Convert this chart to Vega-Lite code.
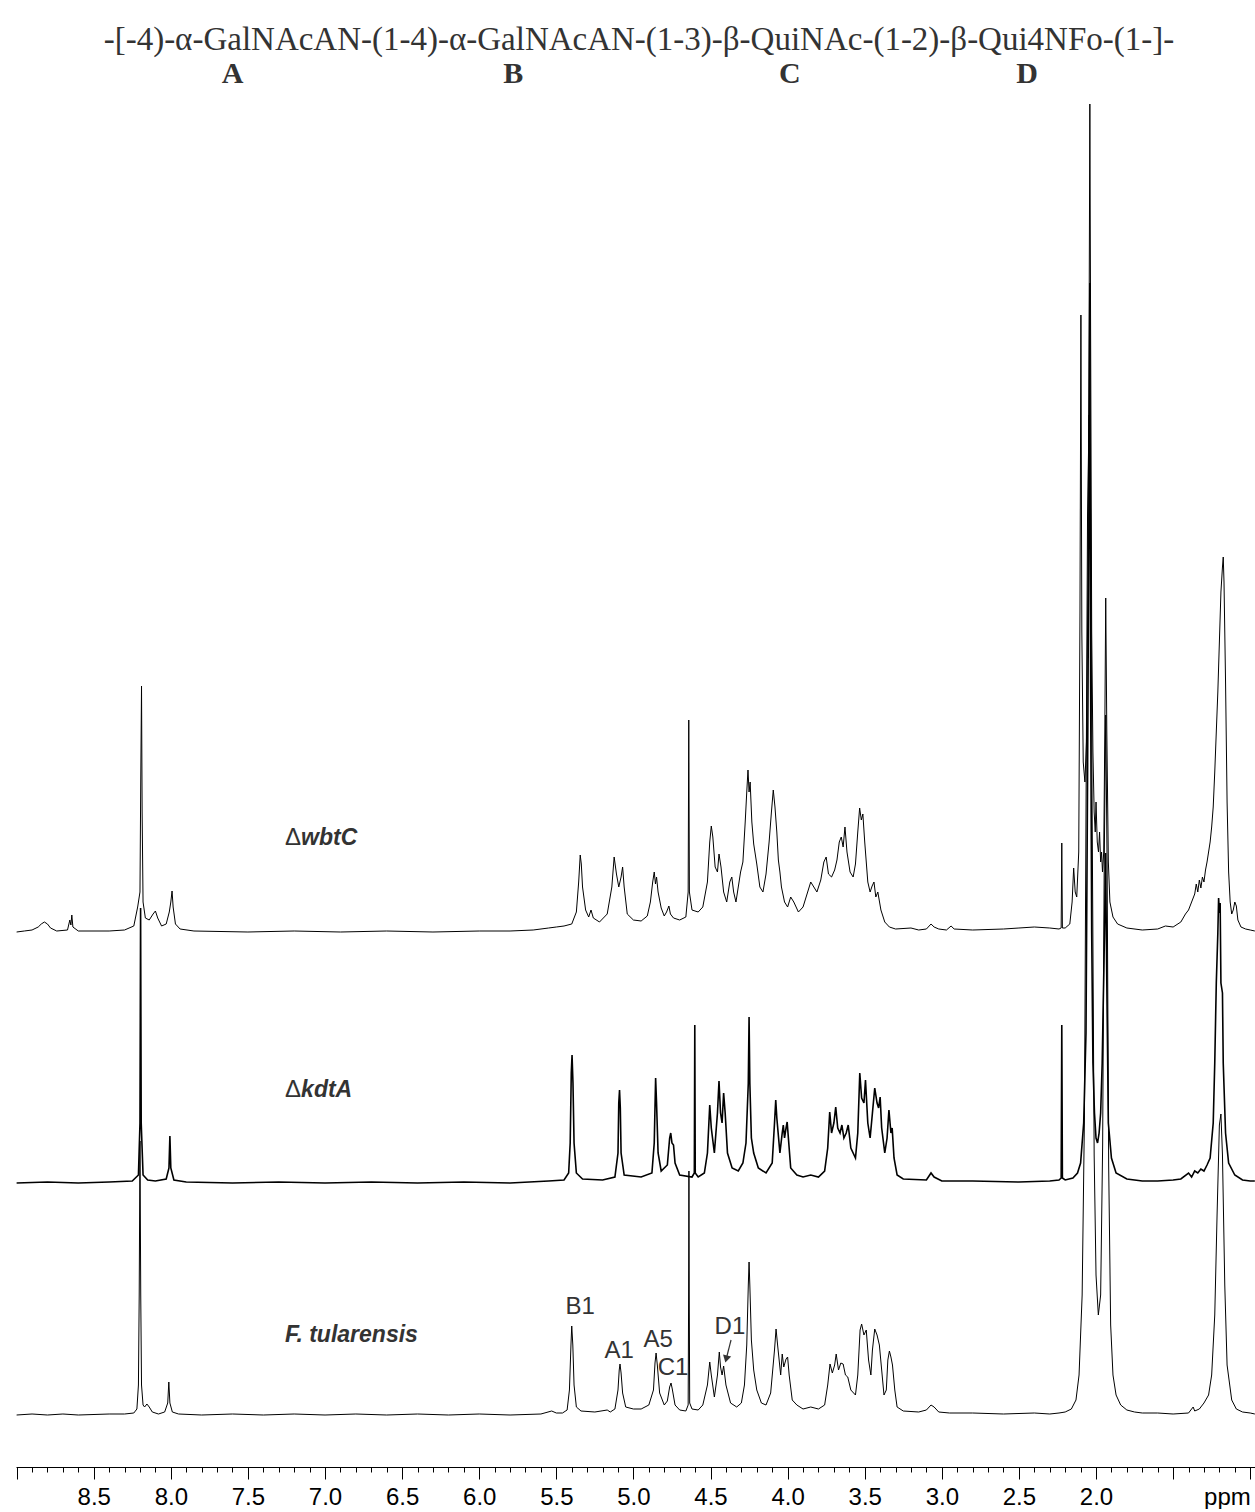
{
"$schema": "https://vega.github.io/schema/vega-lite/v6.json",
"width": 1239, "height": 1467,
"padding": {"left": 13, "top": 0, "right": 3, "bottom": 0},
"config": {"view": {"stroke": null}},
"datasets": {
"top": [{"x":9.0,"h":0},{"x":8.95,"h":1},{"x":8.9,"h":2},{"x":8.86,"h":5},{"x":8.84,"h":8},{"x":8.82,"h":10},{"x":8.8,"h":8},{"x":8.78,"h":4},{"x":8.74,"h":1},{"x":8.67,"h":2},{"x":8.655,"h":12},{"x":8.648,"h":7},{"x":8.642,"h":17},{"x":8.635,"h":5},{"x":8.6,"h":1},{"x":8.4,"h":1},{"x":8.3,"h":2},{"x":8.24,"h":6},{"x":8.215,"h":25},{"x":8.2,"h":40},{"x":8.195,"h":150},{"x":8.19,"h":246},{"x":8.186,"h":120},{"x":8.18,"h":30},{"x":8.165,"h":14},{"x":8.14,"h":12},{"x":8.115,"h":18},{"x":8.1,"h":21},{"x":8.085,"h":14},{"x":8.06,"h":6},{"x":8.03,"h":8},{"x":8.01,"h":20},{"x":8.0,"h":30},{"x":7.992,"h":41},{"x":7.985,"h":25},{"x":7.97,"h":8},{"x":7.94,"h":3},{"x":7.85,"h":1},{"x":7.5,"h":0},{"x":7.2,"h":1},{"x":6.9,"h":0},{"x":6.6,"h":1},{"x":6.3,"h":0},{"x":6.0,"h":1},{"x":5.8,"h":1},{"x":5.65,"h":2},{"x":5.55,"h":4},{"x":5.5,"h":5},{"x":5.45,"h":6},{"x":5.4,"h":8},{"x":5.37,"h":20},{"x":5.355,"h":50},{"x":5.345,"h":77},{"x":5.338,"h":68},{"x":5.33,"h":45},{"x":5.31,"h":22},{"x":5.29,"h":15},{"x":5.275,"h":22},{"x":5.26,"h":14},{"x":5.22,"h":10},{"x":5.17,"h":18},{"x":5.14,"h":45},{"x":5.125,"h":75},{"x":5.11,"h":58},{"x":5.095,"h":45},{"x":5.08,"h":55},{"x":5.07,"h":65},{"x":5.06,"h":45},{"x":5.04,"h":18},{"x":5.0,"h":12},{"x":4.95,"h":11},{"x":4.91,"h":16},{"x":4.89,"h":30},{"x":4.875,"h":50},{"x":4.865,"h":60},{"x":4.857,"h":48},{"x":4.85,"h":55},{"x":4.84,"h":40},{"x":4.82,"h":24},{"x":4.8,"h":16},{"x":4.785,"h":20},{"x":4.77,"h":26},{"x":4.76,"h":18},{"x":4.74,"h":14},{"x":4.7,"h":12},{"x":4.66,"h":15},{"x":4.645,"h":40},{"x":4.641,"h":212},{"x":4.637,"h":40},{"x":4.62,"h":22},{"x":4.58,"h":20},{"x":4.55,"h":25},{"x":4.52,"h":50},{"x":4.505,"h":90},{"x":4.495,"h":106},{"x":4.485,"h":95},{"x":4.47,"h":65},{"x":4.455,"h":60},{"x":4.445,"h":78},{"x":4.432,"h":65},{"x":4.415,"h":40},{"x":4.395,"h":30},{"x":4.375,"h":50},{"x":4.362,"h":55},{"x":4.35,"h":40},{"x":4.335,"h":30},{"x":4.32,"h":45},{"x":4.305,"h":60},{"x":4.29,"h":70},{"x":4.275,"h":110},{"x":4.265,"h":140},{"x":4.257,"h":162},{"x":4.25,"h":140},{"x":4.243,"h":150},{"x":4.232,"h":110},{"x":4.22,"h":88},{"x":4.2,"h":68},{"x":4.18,"h":45},{"x":4.16,"h":40},{"x":4.14,"h":58},{"x":4.12,"h":90},{"x":4.105,"h":120},{"x":4.093,"h":142},{"x":4.082,"h":125},{"x":4.07,"h":100},{"x":4.06,"h":72},{"x":4.05,"h":60},{"x":4.04,"h":45},{"x":4.02,"h":30},{"x":4.0,"h":25},{"x":3.98,"h":35},{"x":3.96,"h":30},{"x":3.93,"h":20},{"x":3.9,"h":25},{"x":3.87,"h":40},{"x":3.85,"h":50},{"x":3.83,"h":45},{"x":3.81,"h":40},{"x":3.785,"h":52},{"x":3.765,"h":70},{"x":3.75,"h":75},{"x":3.735,"h":58},{"x":3.715,"h":55},{"x":3.695,"h":62},{"x":3.68,"h":72},{"x":3.665,"h":90},{"x":3.652,"h":95},{"x":3.64,"h":85},{"x":3.628,"h":105},{"x":3.615,"h":80},{"x":3.595,"h":60},{"x":3.575,"h":55},{"x":3.56,"h":68},{"x":3.545,"h":100},{"x":3.533,"h":124},{"x":3.522,"h":112},{"x":3.512,"h":118},{"x":3.5,"h":90},{"x":3.48,"h":50},{"x":3.465,"h":40},{"x":3.452,"h":46},{"x":3.44,"h":50},{"x":3.428,"h":35},{"x":3.415,"h":40},{"x":3.395,"h":22},{"x":3.37,"h":10},{"x":3.34,"h":5},{"x":3.3,"h":3},{"x":3.2,"h":4},{"x":3.15,"h":2},{"x":3.1,"h":3},{"x":3.07,"h":8},{"x":3.05,"h":5},{"x":3.02,"h":3},{"x":2.97,"h":2},{"x":2.94,"h":6},{"x":2.92,"h":3},{"x":2.8,"h":2},{"x":2.6,"h":3},{"x":2.5,"h":4},{"x":2.4,"h":5},{"x":2.3,"h":4},{"x":2.24,"h":3},{"x":2.226,"h":4},{"x":2.222,"h":89},{"x":2.218,"h":4},{"x":2.2,"h":4},{"x":2.17,"h":8},{"x":2.155,"h":30},{"x":2.145,"h":64},{"x":2.135,"h":40},{"x":2.125,"h":35},{"x":2.112,"h":80},{"x":2.104,"h":320},{"x":2.098,"h":617},{"x":2.092,"h":300},{"x":2.083,"h":170},{"x":2.072,"h":150},{"x":2.062,"h":190},{"x":2.052,"h":350},{"x":2.045,"h":600},{"x":2.04,"h":828},{"x":2.035,"h":600},{"x":2.028,"h":300},{"x":2.02,"h":180},{"x":2.012,"h":120},{"x":2.005,"h":100},{"x":2.0,"h":130},{"x":1.992,"h":90},{"x":1.984,"h":80},{"x":1.977,"h":100},{"x":1.97,"h":70},{"x":1.964,"h":80},{"x":1.958,"h":60},{"x":1.95,"h":80},{"x":1.943,"h":200},{"x":1.937,"h":334},{"x":1.93,"h":200},{"x":1.92,"h":70},{"x":1.91,"h":30},{"x":1.89,"h":15},{"x":1.86,"h":8},{"x":1.8,"h":4},{"x":1.7,"h":2},{"x":1.6,"h":3},{"x":1.55,"h":6},{"x":1.5,"h":5},{"x":1.45,"h":10},{"x":1.42,"h":18},{"x":1.4,"h":22},{"x":1.38,"h":30},{"x":1.36,"h":38},{"x":1.35,"h":48},{"x":1.34,"h":40},{"x":1.33,"h":52},{"x":1.32,"h":44},{"x":1.31,"h":55},{"x":1.3,"h":50},{"x":1.29,"h":62},{"x":1.28,"h":70},{"x":1.27,"h":80},{"x":1.26,"h":90},{"x":1.25,"h":105},{"x":1.24,"h":125},{"x":1.23,"h":160},{"x":1.22,"h":200},{"x":1.21,"h":240},{"x":1.2,"h":290},{"x":1.19,"h":340},{"x":1.18,"h":365},{"x":1.175,"h":375},{"x":1.17,"h":350},{"x":1.16,"h":250},{"x":1.15,"h":130},{"x":1.14,"h":60},{"x":1.13,"h":30},{"x":1.12,"h":18},{"x":1.11,"h":22},{"x":1.1,"h":30},{"x":1.09,"h":26},{"x":1.08,"h":12},{"x":1.06,"h":5},{"x":1.03,"h":3},{"x":1.0,"h":2},{"x":0.97,"h":1}],
"mid": [{"x":9.0,"h":0},{"x":8.8,"h":1},{"x":8.6,"h":0},{"x":8.4,"h":1},{"x":8.25,"h":2},{"x":8.21,"h":8},{"x":8.2,"h":60},{"x":8.196,"h":275},{"x":8.192,"h":60},{"x":8.18,"h":8},{"x":8.15,"h":3},{"x":8.1,"h":2},{"x":8.03,"h":4},{"x":8.012,"h":15},{"x":8.006,"h":47},{"x":8.0,"h":15},{"x":7.98,"h":3},{"x":7.9,"h":1},{"x":7.6,"h":0},{"x":7.3,"h":1},{"x":7.0,"h":0},{"x":6.7,"h":1},{"x":6.4,"h":0},{"x":6.1,"h":1},{"x":5.8,"h":0},{"x":5.55,"h":2},{"x":5.45,"h":3},{"x":5.42,"h":10},{"x":5.41,"h":40},{"x":5.403,"h":110},{"x":5.398,"h":128},{"x":5.392,"h":100},{"x":5.385,"h":40},{"x":5.37,"h":10},{"x":5.33,"h":4},{"x":5.2,"h":3},{"x":5.12,"h":6},{"x":5.1,"h":30},{"x":5.095,"h":80},{"x":5.09,"h":93},{"x":5.085,"h":75},{"x":5.08,"h":30},{"x":5.06,"h":8},{"x":4.95,"h":6},{"x":4.88,"h":10},{"x":4.865,"h":40},{"x":4.856,"h":105},{"x":4.85,"h":80},{"x":4.84,"h":30},{"x":4.82,"h":12},{"x":4.78,"h":18},{"x":4.765,"h":45},{"x":4.758,"h":50},{"x":4.75,"h":40},{"x":4.74,"h":38},{"x":4.73,"h":20},{"x":4.7,"h":8},{"x":4.62,"h":6},{"x":4.605,"h":10},{"x":4.602,"h":158},{"x":4.599,"h":10},{"x":4.58,"h":6},{"x":4.54,"h":10},{"x":4.52,"h":30},{"x":4.505,"h":78},{"x":4.495,"h":55},{"x":4.475,"h":30},{"x":4.455,"h":70},{"x":4.445,"h":102},{"x":4.435,"h":70},{"x":4.425,"h":60},{"x":4.415,"h":90},{"x":4.405,"h":70},{"x":4.39,"h":30},{"x":4.36,"h":15},{"x":4.32,"h":12},{"x":4.29,"h":20},{"x":4.27,"h":40},{"x":4.255,"h":100},{"x":4.25,"h":166},{"x":4.245,"h":100},{"x":4.235,"h":45},{"x":4.22,"h":30},{"x":4.19,"h":15},{"x":4.14,"h":10},{"x":4.1,"h":20},{"x":4.085,"h":60},{"x":4.077,"h":83},{"x":4.07,"h":65},{"x":4.05,"h":30},{"x":4.035,"h":50},{"x":4.028,"h":58},{"x":4.02,"h":45},{"x":4.01,"h":55},{"x":4.003,"h":61},{"x":3.995,"h":45},{"x":3.98,"h":15},{"x":3.94,"h":8},{"x":3.9,"h":6},{"x":3.85,"h":8},{"x":3.8,"h":6},{"x":3.76,"h":12},{"x":3.74,"h":35},{"x":3.727,"h":71},{"x":3.715,"h":50},{"x":3.7,"h":60},{"x":3.688,"h":76},{"x":3.675,"h":55},{"x":3.66,"h":50},{"x":3.648,"h":58},{"x":3.635,"h":45},{"x":3.62,"h":50},{"x":3.607,"h":58},{"x":3.59,"h":35},{"x":3.56,"h":25},{"x":3.545,"h":50},{"x":3.532,"h":110},{"x":3.52,"h":85},{"x":3.505,"h":80},{"x":3.495,"h":103},{"x":3.48,"h":60},{"x":3.465,"h":45},{"x":3.45,"h":70},{"x":3.435,"h":95},{"x":3.42,"h":80},{"x":3.41,"h":75},{"x":3.4,"h":86},{"x":3.39,"h":55},{"x":3.37,"h":30},{"x":3.355,"h":45},{"x":3.343,"h":73},{"x":3.33,"h":50},{"x":3.322,"h":55},{"x":3.31,"h":25},{"x":3.29,"h":8},{"x":3.25,"h":4},{"x":3.1,"h":3},{"x":3.07,"h":10},{"x":3.05,"h":6},{"x":3.0,"h":2},{"x":2.8,"h":2},{"x":2.5,"h":1},{"x":2.3,"h":2},{"x":2.24,"h":3},{"x":2.226,"h":5},{"x":2.222,"h":158},{"x":2.218,"h":5},{"x":2.2,"h":3},{"x":2.15,"h":5},{"x":2.12,"h":10},{"x":2.1,"h":20},{"x":2.08,"h":60},{"x":2.065,"h":150},{"x":2.055,"h":400},{"x":2.045,"h":700},{"x":2.04,"h":900},{"x":2.035,"h":500},{"x":2.028,"h":250},{"x":2.02,"h":120},{"x":2.01,"h":70},{"x":2.0,"h":45},{"x":1.99,"h":40},{"x":1.98,"h":50},{"x":1.97,"h":70},{"x":1.96,"h":120},{"x":1.945,"h":250},{"x":1.938,"h":330},{"x":1.93,"h":200},{"x":1.92,"h":60},{"x":1.9,"h":25},{"x":1.87,"h":10},{"x":1.8,"h":4},{"x":1.7,"h":2},{"x":1.6,"h":2},{"x":1.5,"h":3},{"x":1.45,"h":4},{"x":1.4,"h":10},{"x":1.38,"h":6},{"x":1.36,"h":12},{"x":1.34,"h":10},{"x":1.32,"h":14},{"x":1.3,"h":12},{"x":1.28,"h":18},{"x":1.26,"h":25},{"x":1.24,"h":60},{"x":1.23,"h":120},{"x":1.22,"h":200},{"x":1.21,"h":250},{"x":1.205,"h":285},{"x":1.2,"h":270},{"x":1.195,"h":280},{"x":1.19,"h":200},{"x":1.18,"h":190},{"x":1.175,"h":120},{"x":1.16,"h":50},{"x":1.14,"h":20},{"x":1.1,"h":8},{"x":1.05,"h":3},{"x":1.0,"h":2},{"x":0.97,"h":2}],
"bot": [{"x":9.0,"h":0},{"x":8.9,"h":1},{"x":8.8,"h":0},{"x":8.7,"h":1},{"x":8.6,"h":0},{"x":8.4,"h":1},{"x":8.3,"h":1},{"x":8.24,"h":2},{"x":8.22,"h":6},{"x":8.21,"h":30},{"x":8.205,"h":120},{"x":8.2,"h":274},{"x":8.195,"h":120},{"x":8.19,"h":30},{"x":8.18,"h":10},{"x":8.17,"h":8},{"x":8.155,"h":11},{"x":8.14,"h":8},{"x":8.12,"h":3},{"x":8.08,"h":1},{"x":8.04,"h":3},{"x":8.02,"h":12},{"x":8.013,"h":33},{"x":8.006,"h":12},{"x":7.99,"h":3},{"x":7.95,"h":1},{"x":7.8,"h":0},{"x":7.6,"h":1},{"x":7.4,"h":0},{"x":7.2,"h":1},{"x":7.0,"h":0},{"x":6.8,"h":1},{"x":6.6,"h":0},{"x":6.4,"h":1},{"x":6.2,"h":0},{"x":6.0,"h":1},{"x":5.8,"h":0},{"x":5.6,"h":1},{"x":5.53,"h":4},{"x":5.5,"h":2},{"x":5.46,"h":2},{"x":5.43,"h":5},{"x":5.415,"h":25},{"x":5.405,"h":70},{"x":5.4,"h":89},{"x":5.393,"h":70},{"x":5.385,"h":30},{"x":5.37,"h":8},{"x":5.34,"h":4},{"x":5.25,"h":3},{"x":5.17,"h":5},{"x":5.15,"h":3},{"x":5.12,"h":6},{"x":5.1,"h":25},{"x":5.092,"h":45},{"x":5.087,"h":51},{"x":5.08,"h":42},{"x":5.07,"h":22},{"x":5.05,"h":8},{"x":5.0,"h":6},{"x":4.95,"h":6},{"x":4.9,"h":10},{"x":4.87,"h":25},{"x":4.86,"h":52},{"x":4.853,"h":62},{"x":4.845,"h":50},{"x":4.83,"h":22},{"x":4.8,"h":10},{"x":4.78,"h":14},{"x":4.765,"h":28},{"x":4.756,"h":32},{"x":4.748,"h":26},{"x":4.73,"h":10},{"x":4.7,"h":5},{"x":4.66,"h":4},{"x":4.645,"h":10},{"x":4.642,"h":120},{"x":4.64,"h":244},{"x":4.638,"h":120},{"x":4.635,"h":12},{"x":4.62,"h":6},{"x":4.58,"h":5},{"x":4.55,"h":10},{"x":4.52,"h":30},{"x":4.505,"h":53},{"x":4.495,"h":40},{"x":4.475,"h":18},{"x":4.455,"h":40},{"x":4.443,"h":63},{"x":4.435,"h":48},{"x":4.425,"h":40},{"x":4.415,"h":49},{"x":4.4,"h":30},{"x":4.37,"h":12},{"x":4.33,"h":8},{"x":4.3,"h":12},{"x":4.28,"h":30},{"x":4.265,"h":70},{"x":4.255,"h":130},{"x":4.25,"h":153},{"x":4.245,"h":130},{"x":4.235,"h":75},{"x":4.22,"h":45},{"x":4.2,"h":25},{"x":4.17,"h":12},{"x":4.14,"h":10},{"x":4.11,"h":22},{"x":4.085,"h":65},{"x":4.075,"h":86},{"x":4.065,"h":70},{"x":4.045,"h":40},{"x":4.035,"h":61},{"x":4.025,"h":48},{"x":4.01,"h":56},{"x":4.0,"h":58},{"x":3.99,"h":40},{"x":3.97,"h":15},{"x":3.94,"h":10},{"x":3.9,"h":6},{"x":3.85,"h":8},{"x":3.8,"h":6},{"x":3.76,"h":10},{"x":3.74,"h":30},{"x":3.725,"h":51},{"x":3.71,"h":42},{"x":3.695,"h":50},{"x":3.685,"h":61},{"x":3.67,"h":45},{"x":3.655,"h":52},{"x":3.64,"h":51},{"x":3.625,"h":40},{"x":3.61,"h":38},{"x":3.59,"h":25},{"x":3.56,"h":20},{"x":3.545,"h":40},{"x":3.53,"h":85},{"x":3.52,"h":91},{"x":3.505,"h":80},{"x":3.49,"h":85},{"x":3.475,"h":55},{"x":3.46,"h":40},{"x":3.45,"h":65},{"x":3.435,"h":86},{"x":3.42,"h":80},{"x":3.405,"h":70},{"x":3.39,"h":45},{"x":3.375,"h":20},{"x":3.36,"h":25},{"x":3.35,"h":55},{"x":3.34,"h":64},{"x":3.33,"h":58},{"x":3.32,"h":50},{"x":3.305,"h":25},{"x":3.29,"h":8},{"x":3.25,"h":4},{"x":3.15,"h":3},{"x":3.1,"h":5},{"x":3.07,"h":10},{"x":3.05,"h":8},{"x":3.02,"h":3},{"x":2.95,"h":2},{"x":2.8,"h":2},{"x":2.6,"h":1},{"x":2.4,"h":2},{"x":2.3,"h":1},{"x":2.24,"h":2},{"x":2.2,"h":3},{"x":2.16,"h":6},{"x":2.13,"h":15},{"x":2.11,"h":40},{"x":2.09,"h":120},{"x":2.075,"h":300},{"x":2.065,"h":600},{"x":2.055,"h":900},{"x":2.045,"h":1000},{"x":2.035,"h":900},{"x":2.025,"h":600},{"x":2.012,"h":260},{"x":2.0,"h":140},{"x":1.985,"h":100},{"x":1.97,"h":120},{"x":1.957,"h":270},{"x":1.947,"h":550},{"x":1.937,"h":700},{"x":1.928,"h":550},{"x":1.918,"h":250},{"x":1.905,"h":90},{"x":1.89,"h":40},{"x":1.87,"h":20},{"x":1.84,"h":10},{"x":1.8,"h":5},{"x":1.75,"h":3},{"x":1.7,"h":2},{"x":1.6,"h":2},{"x":1.5,"h":1},{"x":1.4,"h":2},{"x":1.38,"h":6},{"x":1.37,"h":8},{"x":1.36,"h":4},{"x":1.33,"h":6},{"x":1.3,"h":12},{"x":1.27,"h":20},{"x":1.25,"h":40},{"x":1.23,"h":100},{"x":1.215,"h":200},{"x":1.2,"h":290},{"x":1.19,"h":301},{"x":1.18,"h":260},{"x":1.165,"h":130},{"x":1.15,"h":50},{"x":1.12,"h":15},{"x":1.09,"h":6},{"x":1.05,"h":3},{"x":1.0,"h":2},{"x":0.97,"h":1}],
"names": [{"x":7.26,"y":629,"t":"Δ"},{"x":7.26,"y":377,"t":"Δ"}],
"names2": [{"x":7.155,"y":629,"t":"wbtC"},{"x":7.155,"y":377,"t":"kdtA"},{"x":7.26,"y":132,"t":"F. tularensis"}],
"ann": [{"x":5.346,"y":160,"t":"B1"},{"x":5.093,"y":116,"t":"A1"},{"x":4.84,"y":127,"t":"A5"},{"x":4.743,"y":99,"t":"C1"},{"x":4.374,"y":140,"t":"D1"}],
"arrow": [{"x":4.367,"y":127,"x2":4.395,"y2":110}],
"head": [{"x":4.398,"y":108}],
"title": [{"x":4.964,"y":1427,"t":"-[-4)-α-GalNAcAN-(1-4)-α-GalNAcAN-(1-3)-β-QuiNAc-(1-2)-β-Qui4NFo-(1-]-"}],
"letters": [{"x":7.6,"y":1393,"t":"A"},{"x":5.78,"y":1393,"t":"B"},{"x":3.985,"y":1393,"t":"C"},{"x":2.447,"y":1393,"t":"D"}]
},
"encoding": {
"x": {"field": "x", "type": "quantitative",
 "scale": {"domain": [0.969, 9.004], "reverse": true, "nice": false, "zero": false},
 "axis": {"title": null, "grid": false,
  "values": [9.0,8.9,8.8,8.7,8.6,8.5,8.4,8.3,8.2,8.1,8.0,7.9,7.8,7.7,7.6,7.5,7.4,7.3,7.2,7.1,7.0,6.9,6.8,6.7,6.6,6.5,6.4,6.3,6.2,6.1,6.0,5.9,5.8,5.7,5.6,5.5,5.4,5.3,5.2,5.1,5.0,4.9,4.8,4.7,4.6,4.5,4.4,4.3,4.2,4.1,4.0,3.9,3.8,3.7,3.6,3.5,3.4,3.3,3.2,3.1,3.0,2.9,2.8,2.7,2.6,2.5,2.4,2.3,2.2,2.1,2.0,1.9,1.8,1.7,1.6,1.5,1.4,1.3,1.2,1.1,1.0],
  "labelExpr": "abs(datum.value*2 - round(datum.value*2)) < 0.001 ? (abs(datum.value-1) < 0.001 ? 'ppm' : ((abs(datum.value-1.5) < 0.001 || abs(datum.value-9) < 0.001) ? '' : format(datum.value, '.1f'))) : ''",
  "labelOverlap": false, "labelFlush": false,
  "labelAlign": {"condition": {"test": "abs(datum.value-1) < 0.001", "value": "right"}, "value": "center"},
  "tickSize": {"condition": {"test": "abs(datum.value*2 - round(datum.value*2)) < 0.001", "value": 12}, "value": 5},
  "labelFont": "Liberation Sans", "labelFontSize": 24, "labelColor": "#000000", "labelPadding": 6,
  "domainColor": "#000000", "tickColor": "#000000", "domainWidth": 1, "tickWidth": 1}}
},
"layer": [
 {"data": {"name": "top"}, "mark": {"type": "line", "color": "#000000", "strokeWidth": 1},
  "encoding": {"y": {"field": "h", "type": "quantitative", "scale": {"domain": [-535, 932], "nice": false, "zero": false}, "axis": null}}},
 {"data": {"name": "mid"}, "mark": {"type": "line", "color": "#000000", "strokeWidth": 1.6},
  "encoding": {"y": {"field": "h", "type": "quantitative", "scale": {"domain": [-284, 1183], "nice": false, "zero": false}, "axis": null}}},
 {"data": {"name": "bot"}, "mark": {"type": "line", "color": "#000000", "strokeWidth": 1},
  "encoding": {"y": {"field": "h", "type": "quantitative", "scale": {"domain": [-52, 1415], "nice": false, "zero": false}, "axis": null}}},
 {"data": {"name": "names"}, "mark": {"type": "text", "font": "Liberation Sans", "fontSize": 24, "align": "left", "baseline": "middle", "color": "#333333"},
  "encoding": {"y": {"field": "y", "type": "quantitative", "scale": {"domain": [0, 1467], "nice": false, "zero": false}, "axis": null}, "text": {"field": "t"}}},
 {"data": {"name": "names2"}, "mark": {"type": "text", "font": "Liberation Sans", "fontSize": 23, "fontWeight": "bold", "fontStyle": "italic", "align": "left", "baseline": "middle", "color": "#333333"},
  "encoding": {"y": {"field": "y", "type": "quantitative", "scale": {"domain": [0, 1467], "nice": false, "zero": false}, "axis": null}, "text": {"field": "t"}}},
 {"data": {"name": "ann"}, "mark": {"type": "text", "font": "Liberation Sans", "fontSize": 24, "align": "center", "baseline": "middle", "color": "#333333"},
  "encoding": {"y": {"field": "y", "type": "quantitative", "scale": {"domain": [0, 1467], "nice": false, "zero": false}, "axis": null}, "text": {"field": "t"}}},
 {"data": {"name": "arrow"}, "mark": {"type": "rule", "color": "#333333", "strokeWidth": 1.2},
  "encoding": {"y": {"field": "y", "type": "quantitative", "scale": {"domain": [0, 1467], "nice": false, "zero": false}, "axis": null}, "x2": {"field": "x2"}, "y2": {"field": "y2"}}},
 {"data": {"name": "head"}, "mark": {"type": "point", "shape": "triangle-down", "filled": true, "size": 70, "angle": 14, "color": "#333333", "opacity": 1},
  "encoding": {"y": {"field": "y", "type": "quantitative", "scale": {"domain": [0, 1467], "nice": false, "zero": false}, "axis": null}}},
 {"data": {"name": "title"}, "mark": {"type": "text", "font": "Liberation Serif", "fontSize": 33, "align": "center", "baseline": "middle", "color": "#333333"},
  "encoding": {"y": {"field": "y", "type": "quantitative", "scale": {"domain": [0, 1467], "nice": false, "zero": false}, "axis": null}, "text": {"field": "t"}}},
 {"data": {"name": "letters"}, "mark": {"type": "text", "font": "Liberation Serif", "fontSize": 30, "fontWeight": "bold", "align": "center", "baseline": "middle", "color": "#333333"},
  "encoding": {"y": {"field": "y", "type": "quantitative", "scale": {"domain": [0, 1467], "nice": false, "zero": false}, "axis": null}, "text": {"field": "t"}}}
],
"resolve": {"scale": {"y": "independent"}}
}
